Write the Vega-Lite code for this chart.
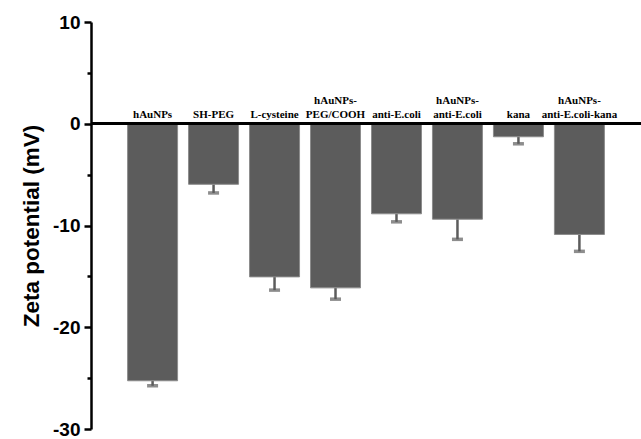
{
  "$schema": "https://vega.github.io/schema/vega-lite/v6.json",
  "autosize": "none",
  "width": 550,
  "height": 407,
  "padding": {"left": 91, "top": 22, "right": 0, "bottom": 10},
  "background": "white",
  "config": {"view": {"stroke": null}},
  "data": {
    "values": [
      {"sample": "hAuNPs", "line1": "", "line2": "hAuNPs", "zeta": -25.26, "low": -25.75},
      {"sample": "SH-PEG", "line1": "", "line2": "SH-PEG", "zeta": -5.95, "low": -6.8},
      {"sample": "L-cysteine", "line1": "", "line2": "L-cysteine", "zeta": -15.05, "low": -16.35},
      {"sample": "hAuNPs-PEG/COOH", "line1": "hAuNPs-", "line2": "PEG/COOH", "zeta": -16.13, "low": -17.24},
      {"sample": "anti-E.coli", "line1": "", "line2": "anti-E.coli", "zeta": -8.85, "low": -9.64},
      {"sample": "hAuNPs-anti-E.coli", "line1": "hAuNPs-", "line2": "anti-E.coli", "zeta": -9.38, "low": -11.36},
      {"sample": "kana", "line1": "", "line2": "kana", "zeta": -1.28, "low": -1.97},
      {"sample": "hAuNPs-anti-E.coli-kana", "line1": "hAuNPs-", "line2": "anti-E.coli-kana", "zeta": -10.88, "low": -12.54}
    ]
  },
  "encoding": {
    "x": {
      "field": "sample",
      "type": "nominal",
      "sort": null,
      "axis": null,
      "scale": {"paddingInner": 0.18, "paddingOuter": 0.6}
    }
  },
  "layer": [
    {
      "mark": {"type": "rule", "color": "#5c5c5c", "strokeWidth": 2.5},
      "encoding": {
        "y": {"field": "zeta", "type": "quantitative"},
        "y2": {"field": "low"}
      }
    },
    {
      "mark": {"type": "tick", "orient": "horizontal", "color": "#5c5c5c", "size": 11, "thickness": 3.5},
      "encoding": {
        "y": {"field": "low", "type": "quantitative"}
      }
    },
    {
      "mark": {"type": "bar", "color": "#5c5c5c", "stroke": "#8c8c8c", "strokeWidth": 1},
      "encoding": {
        "y": {
          "field": "zeta",
          "type": "quantitative",
          "scale": {"domain": [-30, 10], "nice": false},
          "axis": {
            "title": "Zeta potential (mV)",
            "values": [-30, -25, -20, -15, -10, -5, 0, 5, 10],
            "labelExpr": "datum.value % 10 === 0 ? toString(datum.value) : ''",
            "tickSize": {"condition": {"test": "datum.value % 10 === 0", "value": 7}, "value": 4},
            "tickWidth": 2.5,
            "tickColor": "black",
            "domainColor": "black",
            "domainWidth": 2.5,
            "grid": false,
            "labelFont": "Liberation Sans",
            "labelFontWeight": "bold",
            "labelFontSize": 19,
            "labelColor": "black",
            "labelPadding": 4,
            "titleFont": "Liberation Sans",
            "titleFontWeight": "bold",
            "titleFontSize": 22.5,
            "titleColor": "black",
            "titlePadding": 9
          }
        },
        "y2": {"datum": 0}
      }
    },
    {
      "mark": {"type": "rule", "color": "black", "strokeWidth": 2.5},
      "encoding": {
        "x": {"value": 0},
        "x2": {"value": 550},
        "y": {"datum": 0, "type": "quantitative"}
      }
    },
    {
      "mark": {
        "type": "text",
        "font": "Liberation Serif",
        "fontWeight": "bold",
        "fontSize": 11,
        "color": "black",
        "baseline": "alphabetic",
        "dy": -6
      },
      "encoding": {
        "text": {"field": "line2"},
        "y": {"datum": 0, "type": "quantitative"}
      }
    },
    {
      "mark": {
        "type": "text",
        "font": "Liberation Serif",
        "fontWeight": "bold",
        "fontSize": 11,
        "color": "black",
        "baseline": "alphabetic",
        "dy": -19.5
      },
      "encoding": {
        "text": {"field": "line1"},
        "y": {"datum": 0, "type": "quantitative"}
      }
    }
  ]
}
